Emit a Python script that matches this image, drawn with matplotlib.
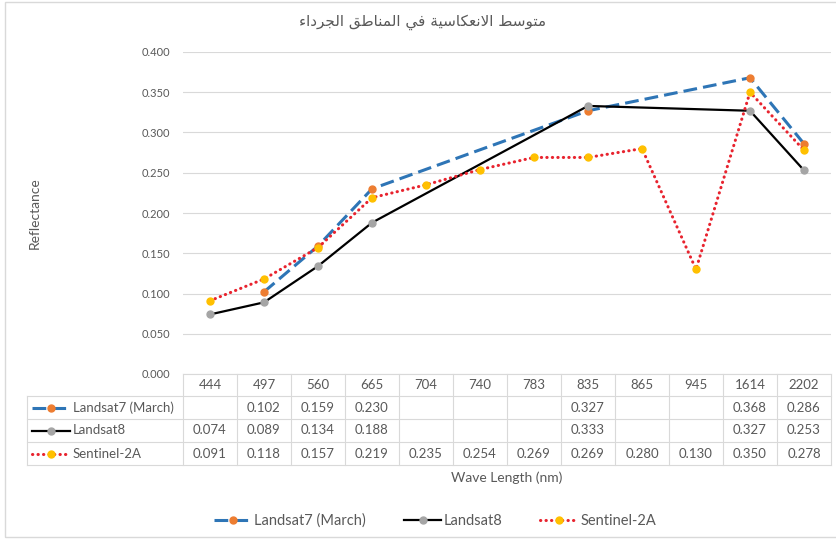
import matplotlib
matplotlib.use("Agg")
import matplotlib.pyplot as plt
from matplotlib.lines import Line2D
from matplotlib.patches import Rectangle
from matplotlib.transforms import blended_transform_factory

plt.rcParams['font.family'] = ['Lato', 'DejaVu Sans']

categories = ['444', '497', '560', '665', '704', '740', '783', '835', '865', '945', '1614', '2202']
landsat7 = [None, 0.102, 0.159, 0.230, None, None, None, 0.327, None, None, 0.368, 0.286]
landsat8 = [0.074, 0.089, 0.134, 0.188, None, None, None, 0.333, None, None, 0.327, 0.253]
sentinel = [0.091, 0.118, 0.157, 0.219, 0.235, 0.254, 0.269, 0.269, 0.280, 0.130, 0.350, 0.278]
names = ['Landsat7 (March)', 'Landsat8', 'Sentinel-2A']

title_ar = 'متوسط الانعكاسية في المناطق الجرداء'

# matplotlib does no arabic shaping -> presentation forms by hand
FORMS = {
    'ء': ('\uFE80', None, None, None),
    'ا': ('\uFE8D', '\uFE8E', None, None),
    'ة': ('\uFE93', '\uFE94', None, None),
    'ت': ('\uFE95', '\uFE96', '\uFE97', '\uFE98'),
    'ج': ('\uFE9D', '\uFE9E', '\uFE9F', '\uFEA0'),
    'د': ('\uFEA9', '\uFEAA', None, None),
    'ر': ('\uFEAD', '\uFEAE', None, None),
    'س': ('\uFEB1', '\uFEB2', '\uFEB3', '\uFEB4'),
    'ط': ('\uFEC1', '\uFEC2', '\uFEC3', '\uFEC4'),
    'ع': ('\uFEC9', '\uFECA', '\uFECB', '\uFECC'),
    'ف': ('\uFED1', '\uFED2', '\uFED3', '\uFED4'),
    'ق': ('\uFED5', '\uFED6', '\uFED7', '\uFED8'),
    'ك': ('\uFED9', '\uFEDA', '\uFEDB', '\uFEDC'),
    'ل': ('\uFEDD', '\uFEDE', '\uFEDF', '\uFEE0'),
    'م': ('\uFEE1', '\uFEE2', '\uFEE3', '\uFEE4'),
    'ن': ('\uFEE5', '\uFEE6', '\uFEE7', '\uFEE8'),
    'و': ('\uFEED', '\uFEEE', None, None),
    'ي': ('\uFEF1', '\uFEF2', '\uFEF3', '\uFEF4'),
}


def shape_arabic(s):
    res = []
    prev_joins = False
    i = 0
    n = len(s)
    while i < n:
        c = s[i]
        if c not in FORMS:
            res.append(c)
            prev_joins = False
            i += 1
            continue
        if c == 'ل' and i + 1 < n and s[i + 1] == 'ا':
            res.append('\uFEFC' if prev_joins else '\uFEFB')
            prev_joins = False
            i += 2
            continue
        iso, fin, ini, med = FORMS[c]
        nxt = s[i + 1] if i + 1 < n else None
        can_next = ini is not None and nxt in FORMS and FORMS[nxt][1] is not None
        if prev_joins and can_next:
            g = med
        elif prev_joins:
            g = fin or iso
        elif can_next:
            g = ini
        else:
            g = iso
        res.append(g)
        prev_joins = can_next
        i += 1
    return ''.join(reversed(res))


W, H = 837, 540
fig = plt.figure(figsize=(W / 100, H / 100), dpi=100)
grey = '#595959'
lgrey = '#D9D9D9'

# plot area in pixels: x 183..831, y 52..374
ax = fig.add_axes([183 / W, 1 - 374 / H, 648 / W, 322 / H])


def axpt(px, py):
    return (px - 183) / 648.0, (374 - py) / 322.0


styles = [
    dict(color='#2E75B6', lw=2.2, dashes=(4.5, 2.0), marker='o', mfc='#ED7D31', mec='#ED7D31', ms=5),
    dict(color='#000000', lw=1.6, linestyle='-', marker='o', mfc='#A5A5A5', mec='#A5A5A5', ms=5),
    dict(color='#E8232E', lw=2.2, linestyle=(0, (0.1, 1.7)), dash_capstyle='round',
         marker='o', mfc='#FFC000', mec='#FFC000', ms=5),
]
series = [landsat7, landsat8, sentinel]

handles = []
for vals, st, nm in zip(series, styles, names):
    xs = [i for i, v in enumerate(vals) if v is not None]
    ys = [v for v in vals if v is not None]
    ln, = ax.plot(xs, ys, label=nm, clip_on=False, **st)
    handles.append(ln)

ax.set_xlim(-0.5, len(categories) - 0.5)
ax.set_ylim(0, 0.4)
ax.set_yticks([i * 0.05 for i in range(9)])
ax.set_yticklabels(['%.3f' % (i * 0.05) for i in range(9)])
ax.tick_params(axis='y', length=0, pad=9, labelsize=8, labelcolor=grey)
ax.set_xticks([])
ax.yaxis.grid(True, color=lgrey, lw=0.8)
ax.set_axisbelow(True)
for sp in ax.spines.values():
    sp.set_visible(False)

# data table below the plot (x in categories, y in axes units)
blend = blended_transform_factory(ax.transData, ax.transAxes)
nc = len(categories)
row_edges = [374, 396, 419, 442, 465]
ya = [axpt(0, p)[1] for p in row_edges]
xl = axpt(27, 0)[0]

def hline(xa, xb, y):
    ax.add_line(Line2D([xa, xb], [y, y], transform=ax.transAxes, clip_on=False,
                       color=lgrey, lw=0.8))

hline(0, 1, ya[0])
for y in ya[1:]:
    hline(xl, 1, y)
ax.add_line(Line2D([xl, xl], [ya[1], ya[-1]], transform=ax.transAxes, clip_on=False,
                   color=lgrey, lw=0.8))
for i in range(nc + 1):
    ax.add_line(Line2D([i - 0.5, i - 0.5], [ya[0], ya[-1]], transform=blend, clip_on=False,
                       color=lgrey, lw=0.8))

hy = (ya[0] + ya[1]) / 2
for i, c in enumerate(categories):
    ax.text(i, hy, c, transform=blend, ha='center', va='center', fontsize=9.5, color=grey)

for r, (vals, st, nm) in enumerate(zip(series, styles, names)):
    cy = (ya[r + 1] + ya[r + 2]) / 2
    for i, v in enumerate(vals):
        if v is not None:
            ax.text(i, cy, '%.3f' % v, transform=blend, ha='center', va='center',
                    fontsize=9.5, color=grey)
    x_a = axpt(32, 0)[0]
    x_b = axpt(70, 0)[0]
    x_m = axpt(51, 0)[0]
    kw = {k: v for k, v in st.items() if k not in ('marker', 'mfc', 'mec', 'ms')}
    ax.add_line(Line2D([x_a, x_b], [cy, cy], transform=ax.transAxes, clip_on=False, **kw))
    ax.add_line(Line2D([x_m], [cy], transform=ax.transAxes, clip_on=False, linestyle='none',
                       marker='o', mfc=st['mfc'], mec=st['mec'], ms=st['ms']))
    ax.text(axpt(73, 0)[0], cy, nm, transform=ax.transAxes, ha='left', va='center',
            fontsize=9.5, color=grey)

# labels
fig.text(423 / W, 1 - 22 / H, shape_arabic(title_ar), ha='center', va='center',
         fontsize=11, color=grey, family=['DejaVu Sans'])
fig.text(35 / W, 1 - 213 / H, 'Reflectance', rotation=90, ha='center', va='center',
         fontsize=10, color=grey)
fig.text(507 / W, 1 - 478 / H, 'Wave Length (nm)', ha='center', va='center',
         fontsize=10, color=grey)

leg = fig.legend(handles=handles, loc='center', bbox_to_anchor=(435 / W, 1 - 521 / H),
                 ncol=3, frameon=False, fontsize=10.5, handlelength=2.6,
                 handletextpad=0.15, columnspacing=2.6)
for t in leg.get_texts():
    t.set_color(grey)

# chart border
fig.add_artist(Rectangle((5 / W, 3 / H), 1.0, 1 - 5 / H, transform=fig.transFigure,
                         fill=False, edgecolor=lgrey, lw=1))

fig.savefig('out.png', dpi=100)
